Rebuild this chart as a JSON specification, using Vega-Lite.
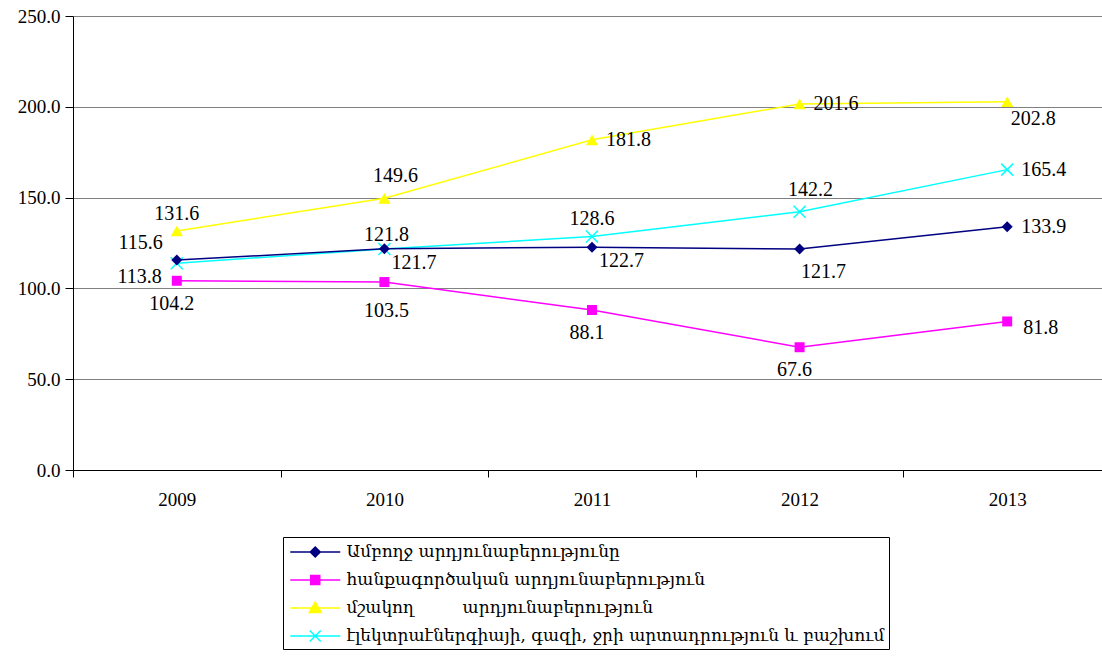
{
  "$schema": "https://vega.github.io/schema/vega-lite/v6.json",
  "width": 1029,
  "height": 454,
  "autosize": {"type": "none"},
  "padding": {"left": 73, "top": 16, "right": 0, "bottom": 190},
  "background": "white",
  "config": {"view": {"stroke": null}, "font": "Liberation Serif"},
  "data": {
    "values": [
      {"year": "2009", "code": "T", "series": "Ամբողջ արդյունաբերությունը", "value": 115.6},
      {"year": "2010", "code": "T", "series": "Ամբողջ արդյունաբերությունը", "value": 121.8},
      {"year": "2011", "code": "T", "series": "Ամբողջ արդյունաբերությունը", "value": 122.7},
      {"year": "2012", "code": "T", "series": "Ամբողջ արդյունաբերությունը", "value": 121.7},
      {"year": "2013", "code": "T", "series": "Ամբողջ արդյունաբերությունը", "value": 133.9},
      {"year": "2009", "code": "Mi", "series": "հանքագործական արդյունաբերություն", "value": 104.2},
      {"year": "2010", "code": "Mi", "series": "հանքագործական արդյունաբերություն", "value": 103.5},
      {"year": "2011", "code": "Mi", "series": "հանքագործական արդյունաբերություն", "value": 88.1},
      {"year": "2012", "code": "Mi", "series": "հանքագործական արդյունաբերություն", "value": 67.6},
      {"year": "2013", "code": "Mi", "series": "հանքագործական արդյունաբերություն", "value": 81.8},
      {"year": "2009", "code": "M", "series": "մշակող\u00a0\u00a0\u00a0\u00a0\u00a0\u00a0\u00a0\u00a0 արդյունաբերություն", "value": 131.6},
      {"year": "2010", "code": "M", "series": "մշակող\u00a0\u00a0\u00a0\u00a0\u00a0\u00a0\u00a0\u00a0 արդյունաբերություն", "value": 149.6},
      {"year": "2011", "code": "M", "series": "մշակող\u00a0\u00a0\u00a0\u00a0\u00a0\u00a0\u00a0\u00a0 արդյունաբերություն", "value": 181.8},
      {"year": "2012", "code": "M", "series": "մշակող\u00a0\u00a0\u00a0\u00a0\u00a0\u00a0\u00a0\u00a0 արդյունաբերություն", "value": 201.6},
      {"year": "2013", "code": "M", "series": "մշակող\u00a0\u00a0\u00a0\u00a0\u00a0\u00a0\u00a0\u00a0 արդյունաբերություն", "value": 202.8},
      {"year": "2009", "code": "E", "series": "էլեկտրաէներգիայի, գազի, ջրի արտադրություն և բաշխում", "value": 113.8},
      {"year": "2010", "code": "E", "series": "էլեկտրաէներգիայի, գազի, ջրի արտադրություն և բաշխում", "value": 121.7},
      {"year": "2011", "code": "E", "series": "էլեկտրաէներգիայի, գազի, ջրի արտադրություն և բաշխում", "value": 128.6},
      {"year": "2012", "code": "E", "series": "էլեկտրաէներգիայի, գազի, ջրի արտադրություն և բաշխում", "value": 142.2},
      {"year": "2013", "code": "E", "series": "էլեկտրաէներգիայի, գազի, ջրի արտադրություն և բաշխում", "value": 165.4}
    ]
  },
  "encoding": {
    "x": {
      "field": "year", "type": "ordinal",
      "scale": {"type": "band", "range": [0, 1038], "paddingInner": 0, "paddingOuter": 0},
      "axis": {"title": null, "labelAngle": 0, "tickBand": "extent", "domainColor": "black", "tickColor": "black", "tickSize": 7, "labelFontSize": 19, "labelPadding": 13, "labelColor": "black", "labelFont": "Liberation Serif", "grid": false}
    },
    "y": {
      "field": "value", "type": "quantitative",
      "scale": {"domain": [0, 250]},
      "axis": {"title": null, "values": [0, 50, 100, 150, 200, 250], "format": ".1f", "domainColor": "black", "tickColor": "black", "tickSize": 8, "labelPadding": 5, "labelFontSize": 19, "labelColor": "black", "labelFont": "Liberation Serif", "grid": true, "gridColor": "#808080", "gridOpacity": 1}
    }
  },
  "layer": [
    {"transform": [{"filter": "datum.code === 'E'"}], "mark": {"type": "line", "color": "#00FFFF", "strokeWidth": 1.5, "point": {"shape": "M-1,-1L1,1M-1,1L1,-1", "filled": false, "stroke": "#00FFFF", "strokeWidth": 1.5, "size": 144, "opacity": 1}}},
    {"transform": [{"filter": "datum.code === 'M'"}], "mark": {"type": "line", "color": "#FFFF00", "strokeWidth": 1.5, "point": {"shape": "triangle-up", "filled": true, "color": "#FFFF00", "size": 150, "opacity": 1}}},
    {"transform": [{"filter": "datum.code === 'Mi'"}], "mark": {"type": "line", "color": "#FF00FF", "strokeWidth": 1.5, "point": {"shape": "square", "filled": true, "color": "#FF00FF", "size": 100, "opacity": 1}}},
    {"transform": [{"filter": "datum.code === 'T'"}], "mark": {"type": "line", "color": "#000080", "strokeWidth": 1.5, "point": {"shape": "diamond", "filled": true, "color": "#000080", "size": 120, "opacity": 1}}},
    {
      "mark": {"type": "point", "filled": true, "opacity": 0, "strokeWidth": 1.5},
      "encoding": {
        "color": {
          "field": "series", "type": "nominal",
          "scale": {"domain": ["Ամբողջ արդյունաբերությունը", "հանքագործական արդյունաբերություն", "մշակող\u00a0\u00a0\u00a0\u00a0\u00a0\u00a0\u00a0\u00a0 արդյունաբերություն", "էլեկտրաէներգիայի, գազի, ջրի արտադրություն և բաշխում"], "range": ["#000080", "#FF00FF", "#FFFF00", "#00FFFF"]},
          "legend": {"title": null, "orient": "none", "legendX": 210, "legendY": 521, "direction": "vertical", "strokeColor": "black", "fillColor": "white", "padding": 4, "symbolSize": 400, "symbolOpacity": 1, "labelFont": "DejaVu Serif", "labelFontSize": 17, "labelColor": "black", "labelLimit": 800, "labelOffset": 37.5, "rowPadding": 9, "symbolStrokeWidth": 1.5, "cornerRadius": 0}
        },
        "stroke": {
          "field": "series", "type": "nominal",
          "scale": {"domain": ["Ամբողջ արդյունաբերությունը", "հանքագործական արդյունաբերություն", "մշակող\u00a0\u00a0\u00a0\u00a0\u00a0\u00a0\u00a0\u00a0 արդյունաբերություն", "էլեկտրաէներգիայի, գազի, ջրի արտադրություն և բաշխում"], "range": ["#000080", "#FF00FF", "#FFFF00", "#00FFFF"]},
          "legend": {"title": null, "orient": "none", "legendX": 210, "legendY": 521, "direction": "vertical", "strokeColor": "black", "fillColor": "white", "padding": 4, "symbolSize": 400, "symbolOpacity": 1, "labelFont": "DejaVu Serif", "labelFontSize": 17, "labelColor": "black", "labelLimit": 800, "labelOffset": 37.5, "rowPadding": 9, "symbolStrokeWidth": 1.5, "cornerRadius": 0}
        },
        "shape": {
          "field": "series", "type": "nominal",
          "scale": {"domain": ["Ամբողջ արդյունաբերությունը", "հանքագործական արդյունաբերություն", "մշակող\u00a0\u00a0\u00a0\u00a0\u00a0\u00a0\u00a0\u00a0 արդյունաբերություն", "էլեկտրաէներգիայի, գազի, ջրի արտադրություն և բաշխում"],
            "range": ["M-0.775,0H4.225M1.725,-0.5L2.225,0L1.725,0.5L1.225,0Z", "M-0.775,0H4.225M1.275,-0.45H2.175V0.45H1.275Z", "M-0.775,0H4.225M1.725,-0.6L2.325,0.45L1.125,0.45Z", "M-0.775,0H4.225M1.175,-0.55L2.275,0.55M1.175,0.55L2.275,-0.55"]},
          "legend": {"title": null, "orient": "none", "legendX": 210, "legendY": 521, "direction": "vertical", "strokeColor": "black", "fillColor": "white", "padding": 4, "symbolSize": 400, "symbolOpacity": 1, "labelFont": "DejaVu Serif", "labelFontSize": 17, "labelColor": "black", "labelLimit": 800, "labelOffset": 37.5, "rowPadding": 9, "symbolStrokeWidth": 1.5, "cornerRadius": 0}
        }
      }
    },
    {"transform": [{"filter": "indexof(['M2011','M2012','E2013','T2013'], datum.code + datum.year) >= 0"}],
     "mark": {"type": "text", "align": "left", "baseline": "middle", "dx": 14, "dy": 0, "fontSize": 20, "font": "Liberation Serif", "color": "black"},
     "encoding": {"text": {"field": "value", "type": "quantitative", "format": ".1f"}}},
    {"transform": [{"filter": "indexof(['Mi2013'], datum.code + datum.year) >= 0"}],
     "mark": {"type": "text", "align": "left", "baseline": "middle", "dx": 16, "dy": 7, "fontSize": 20, "font": "Liberation Serif", "color": "black"},
     "encoding": {"text": {"field": "value", "type": "quantitative", "format": ".1f"}}},
    {"transform": [{"filter": "indexof(['T2011','E2010'], datum.code + datum.year) >= 0"}],
     "mark": {"type": "text", "align": "left", "baseline": "middle", "dx": 7, "dy": 14, "fontSize": 20, "font": "Liberation Serif", "color": "black"},
     "encoding": {"text": {"field": "value", "type": "quantitative", "format": ".1f"}}},
    {"transform": [{"filter": "indexof(['M2009','E2011'], datum.code + datum.year) >= 0"}],
     "mark": {"type": "text", "align": "center", "baseline": "middle", "dx": 0, "dy": -17, "fontSize": 20, "font": "Liberation Serif", "color": "black"},
     "encoding": {"text": {"field": "value", "type": "quantitative", "format": ".1f"}}},
    {"transform": [{"filter": "indexof(['T2010'], datum.code + datum.year) >= 0"}],
     "mark": {"type": "text", "align": "center", "baseline": "middle", "dx": 2, "dy": -14, "fontSize": 20, "font": "Liberation Serif", "color": "black"},
     "encoding": {"text": {"field": "value", "type": "quantitative", "format": ".1f"}}},
    {"transform": [{"filter": "indexof(['M2010','E2012'], datum.code + datum.year) >= 0"}],
     "mark": {"type": "text", "align": "center", "baseline": "middle", "dx": 11, "dy": -22, "fontSize": 20, "font": "Liberation Serif", "color": "black"},
     "encoding": {"text": {"field": "value", "type": "quantitative", "format": ".1f"}}},
    {"transform": [{"filter": "indexof(['Mi2009','Mi2011','Mi2012'], datum.code + datum.year) >= 0"}],
     "mark": {"type": "text", "align": "center", "baseline": "middle", "dx": -5, "dy": 23, "fontSize": 20, "font": "Liberation Serif", "color": "black"},
     "encoding": {"text": {"field": "value", "type": "quantitative", "format": ".1f"}}},
    {"transform": [{"filter": "indexof(['Mi2010'], datum.code + datum.year) >= 0"}],
     "mark": {"type": "text", "align": "center", "baseline": "middle", "dx": 2, "dy": 29, "fontSize": 20, "font": "Liberation Serif", "color": "black"},
     "encoding": {"text": {"field": "value", "type": "quantitative", "format": ".1f"}}},
    {"transform": [{"filter": "indexof(['T2012'], datum.code + datum.year) >= 0"}],
     "mark": {"type": "text", "align": "center", "baseline": "middle", "dx": 24, "dy": 23, "fontSize": 20, "font": "Liberation Serif", "color": "black"},
     "encoding": {"text": {"field": "value", "type": "quantitative", "format": ".1f"}}},
    {"transform": [{"filter": "indexof(['M2013'], datum.code + datum.year) >= 0"}],
     "mark": {"type": "text", "align": "center", "baseline": "middle", "dx": 26, "dy": 17, "fontSize": 20, "font": "Liberation Serif", "color": "black"},
     "encoding": {"text": {"field": "value", "type": "quantitative", "format": ".1f"}}},
    {"transform": [{"filter": "indexof(['T2009'], datum.code + datum.year) >= 0"}],
     "mark": {"type": "text", "align": "right", "baseline": "middle", "dx": -14, "dy": -17, "fontSize": 20, "font": "Liberation Serif", "color": "black"},
     "encoding": {"text": {"field": "value", "type": "quantitative", "format": ".1f"}}},
    {"transform": [{"filter": "indexof(['E2009'], datum.code + datum.year) >= 0"}],
     "mark": {"type": "text", "align": "right", "baseline": "middle", "dx": -15, "dy": 14, "fontSize": 20, "font": "Liberation Serif", "color": "black"},
     "encoding": {"text": {"field": "value", "type": "quantitative", "format": ".1f"}}}
  ]
}
